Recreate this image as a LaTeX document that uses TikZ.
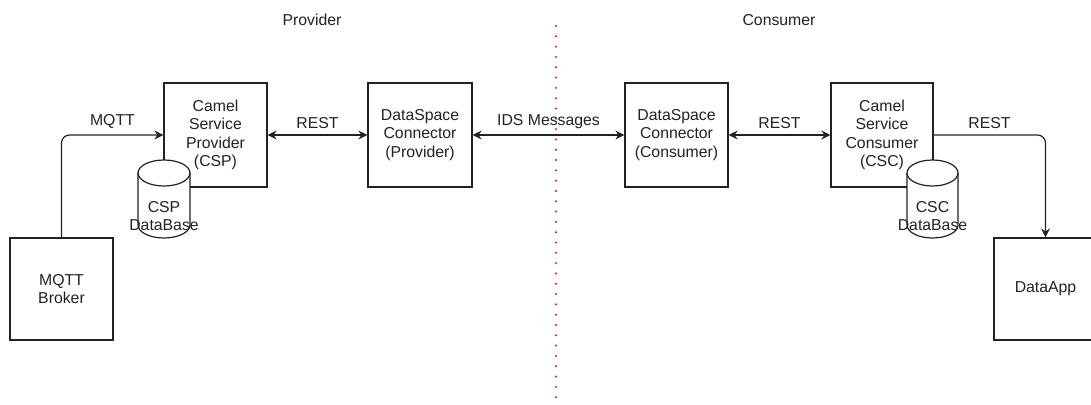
\documentclass[tikz,border=0pt]{standalone}
\usepackage{fontspec}
\setmainfont{Liberation Sans}
\usetikzlibrary{arrows.meta}
\definecolor{ink}{HTML}{222222}
\begin{document}
\begin{tikzpicture}[x=1pt,y=1pt,
  font=\fontsize{15.8}{18.6}\selectfont,
  box/.style={draw=ink, line width=1.2pt, fill=white, minimum width=103pt, minimum height=104pt, inner sep=0pt, align=center, text=ink},
  arr/.style={draw=ink, line width=1.2pt, -{Stealth[length=9pt,width=9pt,inset=3pt]}},
  darr/.style={draw=ink, line width=1.2pt, {Stealth[length=9pt,width=9pt,inset=3pt]}-{Stealth[length=9pt,width=9pt,inset=3pt]}},
  lbl/.style={text=ink, inner sep=0pt},
  cyl/.style={draw=ink, line width=1.2pt, fill=white},
  divider/.style={draw=red, line width=2.4pt, line cap=round, dash pattern=on 0.01pt off 10.3pt}
]
\useasboundingbox (0,0) rectangle (1091,-404);

% titles
\node[lbl] (tprov) at (312,-20) {Provider};
\node[lbl] (tcons) at (779,-20) {Consumer};

% boxes
\node[box] (csp) at (215.5,-135) {Camel\\Service\\Provider\\(CSP)};
\node[box, minimum height=102pt] (mqtt) at (61.5,-289) {MQTT\\Broker};
\node[box, minimum width=104pt] (dsp) at (420,-135) {DataSpace\\Connector\\(Provider)};
\node[box] (dsc) at (676.5,-135) {DataSpace\\Connector\\(Consumer)};
\node[box, minimum width=102pt] (csc) at (882,-135) {Camel\\Service\\Consumer\\(CSC)};
\node[box, minimum height=102pt] (app) at (1045.5,-289) {DataApp};

% cylinders
\draw[cyl] (138,-173) -- (138,-225) arc[start angle=180,end angle=360,x radius=26,y radius=13]
  -- (190,-173) arc[start angle=0,end angle=180,x radius=26,y radius=13] -- cycle;
\draw[cyl, fill=none] (138,-173) arc[start angle=180,end angle=360,x radius=26,y radius=13];
\node[lbl, align=center] (cspdbl) at (164,-216) {CSP\\DataBase};

\draw[cyl] (907,-173) -- (907,-225) arc[start angle=180,end angle=360,x radius=25.5,y radius=13]
  -- (958,-173) arc[start angle=0,end angle=180,x radius=25.5,y radius=13] -- cycle;
\draw[cyl, fill=none] (907,-173) arc[start angle=180,end angle=360,x radius=25.5,y radius=13];
\node[lbl, align=center] (cscdbl) at (932.5,-216) {CSC\\DataBase};

% connectors
\draw[arr, rounded corners=8pt] (mqtt.north) |- node[lbl, pos=0.75, above=6pt] (lmqtt) {MQTT} (csp.west);
\draw[darr] (csp.east) -- node[lbl, midway, above=6pt] (lrest1) {REST} (dsp.west);
\draw[darr] (dsp.east) -- node[lbl, midway, above=6pt] (lids) {IDS Messages} (dsc.west);
\draw[darr] (dsc.east) -- node[lbl, midway, above=6pt] (lrest2) {REST} (csc.west);
\draw[arr, rounded corners=8pt] (csc.east) -| node[lbl, pos=0.25, above=6pt] (lrest3) {REST} (app.north);

% divider
\coordinate (dtop) at (556,-26);
\coordinate (dbot) at (556,-400);
\draw[divider] (dtop) -- (dbot);
\end{tikzpicture}
\end{document}
